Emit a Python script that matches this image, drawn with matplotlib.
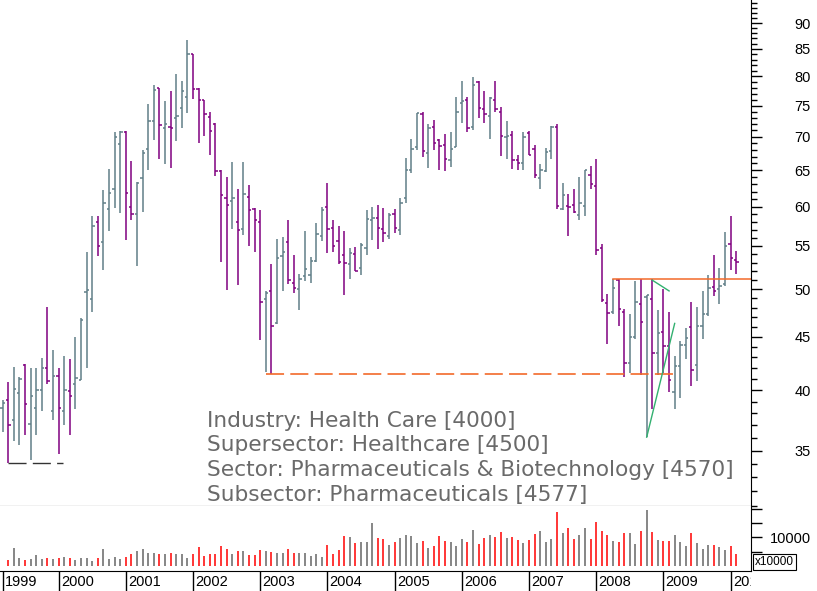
import numpy as np
import pandas as pd
import matplotlib
matplotlib.use('Agg')
import matplotlib.pyplot as plt
from matplotlib.ticker import FixedLocator, NullFormatter, FixedFormatter

plt.rcParams['lines.scale_dashes'] = False

# monthly bars, Mar 1999 .. Feb 2010
months = pd.date_range('1999-03-01', periods=132, freq='MS')

opens = [38.46, 39.1, 37.47, 39.76, 42.3, 37.12, 38.46, 40.04, 41.96, 38.17,
         41.24, 38.17, 39.9, 40.54, 40.94, 49.7, 48.9, 58.0, 55.5, 59.7,
         62.4, 68.9, 70.8, 59.95, 59.0, 63.9, 68.1, 72.5, 77.9, 71.35,
         71.5, 72.9, 74.55, 76.4, 84.0, 77.8, 75.9, 73.1, 71.95, 64.95,
         61.1, 60.7, 58.0, 57.1, 61.3, 59.7, 58.05, 48.9, 49.8, 46.4,
         53.8, 55.5, 50.7, 50.05, 51.5, 51.6, 53.2, 56.2, 59.9, 57.2,
         55.6, 53.9, 52.8, 54.0, 52.4, 54.75, 58.2, 58.55, 57.1, 56.2,
         59.0, 56.95, 61.1, 65.1, 68.5, 73.6, 67.6, 71.5, 69.5, 68.75,
         66.5, 68.5, 75.4, 75.9, 71.5, 79.0, 74.4, 73.3, 75.9, 73.9,
         70.0, 70.3, 66.5, 66.0, 70.55, 68.1, 63.9, 64.95, 67.8, 71.6,
         59.7, 60.1, 60.2, 58.9, 60.1, 64.35, 62.8, 54.75, 48.5, 47.5,
         51.0, 47.5, 42.45, 44.95, 48.4, 49.1, 48.95, 43.4, 45.5, 44.1,
         39.85, 42.2, 44.2, 46.0, 42.25, 46.05, 47.3, 50.2, 50.0, 50.55,
         55.2, 53.3]
highs = [39.17, 40.73, 42.1, 41.14, 42.38, 41.96, 41.96, 42.9, 48.06, 43.75,
         41.96, 43.13, 42.8, 44.98, 46.9, 54.3, 58.8, 58.8, 62.3, 65.2,
         70.8, 70.9, 70.9, 66.4, 63.3, 68.0, 75.3, 78.5, 78.0, 75.8,
         77.4, 80.5, 79.2, 86.6, 84.1, 78.0, 76.0, 74.0, 72.2, 65.0,
         64.0, 66.2, 62.4, 66.2, 62.95, 59.8, 59.6, 49.8, 52.8, 55.8,
         56.1, 58.2, 53.9, 51.7, 56.8, 53.7, 57.8, 59.9, 63.2, 58.3,
         57.5, 56.8, 54.7, 54.9, 55.4, 59.6, 59.9, 60.25, 59.8, 59.2,
         59.7, 61.2, 66.8, 69.7, 73.8, 74.0, 72.0, 72.6, 69.7, 70.5,
         70.8, 76.5, 79.2, 76.5, 79.9, 79.1, 77.4, 76.5, 79.2, 74.8,
         72.5, 70.9, 67.2, 70.75, 70.9, 68.75, 65.85, 68.3, 71.7, 72.0,
         63.2, 61.75, 62.35, 64.05, 65.1, 65.6, 66.6, 55.3, 49.45, 51.15,
         51.15, 47.9, 47.3, 50.85, 51.15, 49.4, 51.15, 47.7, 50.0, 47.5,
         43.1, 44.6, 45.85, 48.65, 48.1, 49.8, 51.6, 53.9, 52.4, 56.75,
         58.8, 54.4]
lows = [36.45, 34.06, 35.73, 35.47, 36.26, 34.27, 36.21, 38.23, 40.54, 37.47,
        34.7, 37.0, 36.21, 38.4, 40.87, 42.0, 47.5, 53.8, 52.1, 56.9,
        59.8, 59.2, 55.7, 58.2, 52.6, 59.3, 65.1, 69.5, 66.7, 65.9,
        65.3, 69.3, 71.3, 73.7, 76.1, 69.1, 70.2, 67.2, 64.2, 53.1,
        49.9, 57.15, 50.45, 56.3, 54.95, 54.3, 44.7, 41.6, 41.46, 46.3,
        49.75, 50.6, 49.55, 47.7, 50.85, 50.7, 53.1, 55.6, 54.2, 54.3,
        52.9, 49.4, 51.15, 52.0, 51.6, 53.9, 55.7, 54.6, 55.5, 55.9,
        56.6, 56.4, 60.5, 64.6, 68.0, 67.0, 65.4, 68.0, 65.0, 64.85,
        65.5, 68.4, 72.1, 70.7, 71.0, 72.9, 72.1, 69.7, 74.0, 67.1,
        66.7, 65.2, 65.0, 65.05, 67.2, 63.9, 62.4, 64.8, 66.7, 59.7,
        59.6, 56.2, 59.1, 58.2, 58.7, 62.4, 53.9, 48.6, 44.3, 47.3,
        46.05, 41.2, 41.5, 44.8, 41.35, 36.05, 38.4, 41.35, 41.5, 39.8,
        38.4, 39.3, 42.85, 40.35, 40.85, 44.75, 47.1, 49.2, 48.4, 50.4,
        52.1, 51.7]
closes = [38.89, 37.06, 40.1, 41.0, 38.8, 39.45, 40.04, 41.96, 40.79, 41.24,
          38.46, 40.04, 39.5, 41.08, 46.66, 49.85, 57.5, 55.0, 60.5, 61.8,
          69.95, 70.7, 61.8, 59.05, 63.2, 67.6, 72.5, 77.7, 71.8, 71.95,
          71.3, 73.3, 77.4, 84.0, 77.8, 75.9, 73.6, 70.9, 64.95, 61.6,
          60.2, 61.1, 57.0, 61.7, 59.5, 58.2, 48.6, 49.6, 46.1, 53.6,
          54.3, 51.05, 50.1, 51.1, 52.25, 53.2, 56.5, 59.6, 57.1, 55.0,
          53.1, 52.95, 54.1, 52.05, 55.1, 58.4, 58.5, 57.2, 56.6, 58.9,
          57.2, 60.5, 65.1, 68.2, 73.7, 67.8, 71.35, 69.1, 68.6, 66.6,
          68.2, 73.9, 75.7, 71.35, 78.5, 74.55, 73.6, 76.3, 74.4, 70.1,
          70.1, 66.5, 66.0, 70.0, 67.3, 64.3, 65.1, 67.7, 71.5, 60.1,
          61.6, 59.9, 59.3, 60.5, 65.0, 63.1, 54.5, 48.85, 47.4, 50.1,
          47.9, 42.45, 44.98, 48.65, 46.5, 49.3, 43.4, 45.4, 44.1, 40.9,
          42.2, 44.2, 44.9, 41.8, 46.05, 47.3, 50.1, 49.75, 50.3, 55.0,
          53.6, 53.1]
volumes = [np.nan, 2083, 6250, 2780, 2080, 2310, 3820, 2430, 2780, 2430,
           2780, 3125, 2780, 2080, 2780, 2780, 1740, 2780, 5900, 2430,
           3125, 2430, 3125, 4170, 5200, 5900, 4510, 4510, 4170, 4170,
           4510, 4170, 4170, 2780, 4170, 6600, 3470, 4170, 4170, 6940,
           5900, 4170, 5200, 5200, 3820, 3820, 5560, 5200, 4860, 4510,
           4510, 5900, 4510, 4510, 4510, 3470, 4170, 3125, 7290, 4170,
           5560, 10400, 10070, 7990, 8330, 8330, 14930, 9720, 9380, 7290,
           8330, 9720, 10760, 10400, 7990, 8680, 6250, 6940, 10400, 8680,
           8330, 6940, 9380, 8330, 12500, 7640, 9720, 10760, 10070, 11800,
           9720, 10070, 9030, 7990, 9030, 11100, 12150, 8330, 9380, 18750,
           11460, 13190, 9380, 10760, 13190, 9380, 15280, 12150, 10760, 8680,
           8330, 11460, 11460, 7640, 12150, 19440, 11800, 9030, 8680, 8680,
           10760, 8330, 6940, 11460, 7990, 5900, 7290, 7290, 6600, 5560,
           6940, 4170]

# drawn lines (bar index, price)
old_low = [(1, 34.06), (10.75, 34.06)]
support = [(47, 41.46), (120.6, 41.46)]
resistance = [(109, 51.15), (133.6, 51.15)]
trend_up = [(115, 36.05), (120, 46.35)]
trend_down = [(116, 51.0), (119, 49.8)]

sector_text = ['Industry: Health Care [4000]',
               'Supersector: Healthcare [4500]',
               'Sector: Pharmaceuticals & Biotechnology [4570]',
               'Subsector: Pharmaceuticals [4577]']

price_ticks = [35, 40, 45, 50, 55, 60, 65, 70, 75, 80, 85, 90]

UP = '#607f88'
DOWN = '#800080'
W, H = 817, 591

x = np.arange(len(months))
o, h, l, c = map(np.array, (opens, highs, lows, closes))
down = c < o
cols = np.where(down, DOWN, UP)

fig = plt.figure(figsize=(W / 100, H / 100), dpi=100)
right = 750.5 / W
ax = fig.add_axes([0, (H - 505.5) / H, right, 505.5 / H])
axv = fig.add_axes([0, (H - 571) / H, right, 65.5 / H], sharex=ax)
axx = fig.add_axes([0, 0, right, (H - 571) / H], sharex=ax)

# price bars
ax.vlines(x, l, h, colors=cols, lw=1.1)
ax.hlines(o, x - 0.42, x, colors=cols, lw=1.1)
ax.hlines(c, x, x + 0.42, colors=cols, lw=1.1)

dash = (0, (13, 4.5))
ax.plot(*zip(*old_low), color='#333333', lw=1, linestyle=dash)
ax.plot(*zip(*support), color='#f26a2a', lw=1.2, linestyle=dash)
ax.plot(*zip(*resistance), color='#f26a2a', lw=1.1)
ax.plot(*zip(*trend_up), color='#33b070', lw=1)
ax.plot(*zip(*trend_down), color='#33b070', lw=1)

ax.set_yscale('log')
ax.set_ylim(31.0, 94.7)
ax.set_xlim(-0.48, 133.54)
ax.yaxis.set_major_locator(FixedLocator(price_ticks))
ax.yaxis.set_major_formatter(FixedFormatter([str(t) for t in price_ticks]))
ax.yaxis.set_minor_locator(FixedLocator(range(31, 95)))
ax.yaxis.set_minor_formatter(NullFormatter())
ax.yaxis.tick_right()
ax.tick_params(axis='y', which='major', direction='out', length=8, width=1,
               pad=35.5, labelsize=10.5, colors='black')
ax.tick_params(axis='y', which='minor', direction='out', length=4.3, width=1)
for lab in ax.get_yticklabels():
    lab.set_horizontalalignment('right')
    lab.set_family('Liberation Sans')
ax.tick_params(axis='x', bottom=False, labelbottom=False)
for s in ('top', 'left'):
    ax.spines[s].set_visible(False)

for i, t in enumerate(sector_text):
    fig.text(207 / W, 1 - (426.7 + 24.7 * i) / H, t, fontsize=15.6,
             color='#6a6a6a', va='baseline', ha='left')

# volume
vcols = np.where(down, '#ff0000', '#666666')
axv.vlines(x, 0, volumes, colors=vcols, lw=1.1)
axv.set_ylim(-1750, 21100)
axv.yaxis.tick_right()
axv.set_yticks([5000, 10000, 15000, 20000])
axv.set_yticklabels(['', '10000', '', ''])
axv.tick_params(axis='y', direction='out', length=8, width=1, pad=35.5,
                labelsize=10.5)
for lab in axv.get_yticklabels():
    lab.set_horizontalalignment('right')
    lab.set_family('Liberation Sans')
axv.tick_params(axis='x', bottom=False, labelbottom=False)
for s in ('top', 'left'):
    axv.spines[s].set_visible(False)
fig.text(755 / W, 1 - 562 / H, 'x10000', fontsize=8.5, family='Liberation Sans',
         va='center', ha='left',
         bbox=dict(boxstyle='square,pad=0.15', fc='white', ec='black', lw=0.8))

# year strip
year_pos = [0] + [i for i, d in enumerate(months) if d.month == 1]
year_lab = [str(months[i].year) for i in year_pos]
axx.set_ylim(0, 1)
axx.vlines(year_pos, 0, 1, colors='black', lw=1)
for p, t in zip(year_pos, year_lab):
    axx.text(p + 0.4, 0.45, t, fontsize=10.5, family='Liberation Sans',
             va='center', ha='left', clip_on=True)
axx.axis('off')

fig.savefig('out.png', dpi=100)
